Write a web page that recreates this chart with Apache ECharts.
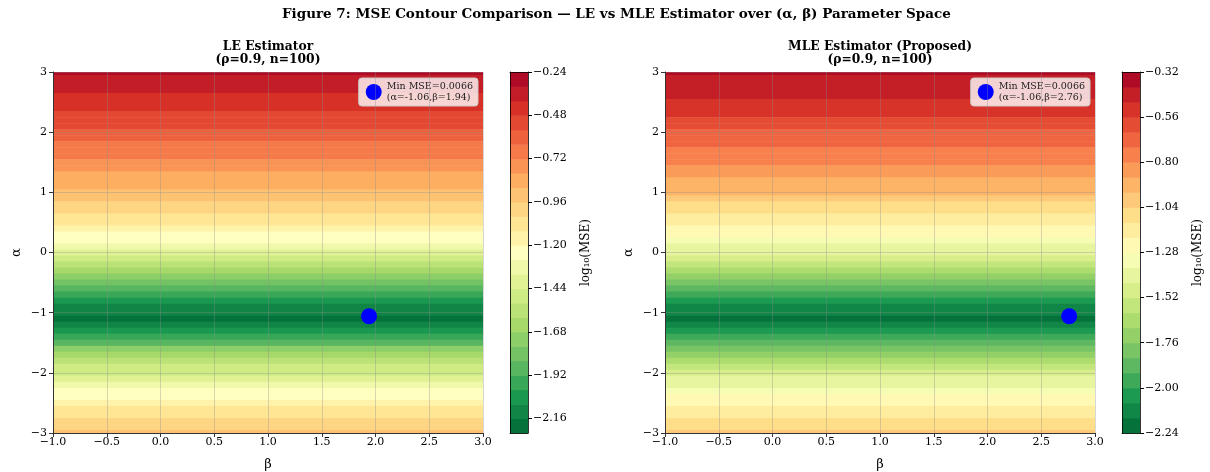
<!DOCTYPE html>
<html>
<head>
<meta charset="utf-8">
<script src="https://cdn.jsdelivr.net/npm/echarts@6/dist/echarts.min.js"></script>
<style>
  html, body { margin: 0; background: #fff; }
  #chart { width: 1210px; height: 472px; }
</style>
</head>
<body>
<div id="chart"></div>
<script>
// alpha rows of the (alpha, beta) grid, top to bottom
const alphaRows = [
  3.0, 2.9, 2.8, 2.7, 2.6, 2.5, 2.4, 2.3, 2.2, 2.1,
  2.0, 1.9, 1.8, 1.7, 1.6, 1.5, 1.4, 1.3, 1.2, 1.1,
  1.0, 0.9, 0.8, 0.7, 0.6, 0.5, 0.4, 0.3, 0.2, 0.1,
  0.0, -0.1, -0.2, -0.3, -0.4, -0.5, -0.6, -0.7, -0.8, -0.9,
  -1.0, -1.1, -1.2, -1.3, -1.4, -1.5, -1.6, -1.7, -1.8, -1.9,
  -2.0, -2.1, -2.2, -2.3, -2.4, -2.5, -2.6, -2.7, -2.8, -2.9,
  -3.0
]

// log10(MSE) per alpha row
const leLogMse = [
  -0.31, -0.34, -0.36, -0.38, -0.40, -0.43, -0.45, -0.48, -0.51, -0.54,
  -0.57, -0.60, -0.64, -0.67, -0.70, -0.73, -0.77, -0.80, -0.83, -0.87,
  -0.90, -0.95, -0.99, -1.03, -1.07, -1.11, -1.16, -1.21, -1.26, -1.32,
  -1.38, -1.45, -1.52, -1.60, -1.68, -1.77, -1.86, -1.95, -2.03, -2.10,
  -2.15, -2.18, -2.10, -2.02, -1.93, -1.84, -1.75, -1.66, -1.58, -1.51,
  -1.44, -1.37, -1.31, -1.26, -1.20, -1.15, -1.10, -1.05, -1.00, -0.96,
  -0.92
]
const mleLogMse = [
  -0.37, -0.42, -0.44, -0.45, -0.47, -0.50, -0.52, -0.55, -0.58, -0.61,
  -0.64, -0.67, -0.70, -0.73, -0.76, -0.79, -0.83, -0.86, -0.89, -0.93,
  -0.95, -1.00, -1.04, -1.08, -1.12, -1.16, -1.20, -1.25, -1.30, -1.36,
  -1.41, -1.48, -1.55, -1.63, -1.70, -1.79, -1.88, -1.96, -2.04, -2.11,
  -2.15, -2.18, -2.14, -2.07, -1.99, -1.90, -1.81, -1.72, -1.64, -1.57,
  -1.50, -1.43, -1.37, -1.32, -1.27, -1.22, -1.17, -1.12, -1.08, -1.04,
  -1.00
]

// minimum points
const leMin = [1.94, -1.06]
const mleMin = [2.76, -1.06]
const minMse = 0.0066

// contour levels and colorbar ticks
const leLevelRange = [-2.24, -0.24]
const mleLevelRange = [-2.24, -0.32]
const levelStep = 0.08
const leCbarTicks = [-2.16, -1.92, -1.68, -1.44, -1.20, -0.96, -0.72, -0.48, -0.24]
const mleCbarTicks = [-2.24, -2.00, -1.76, -1.52, -1.28, -1.04, -0.80, -0.56, -0.32]

const BETA = [-1, 3]
const ALPHA = [-3, 3]
const FONT = '"DejaVu Serif", serif'

// RdYlGn, reversed when sampled
const RDYLGN = ['#a50026', '#d73027', '#f46d43', '#fdae61', '#fee08b', '#ffffbf',
  '#d9ef8b', '#a6d96a', '#66bd63', '#1a9850', '#006837']
function hex2rgb(h) {
  return [1, 3, 5].map(i => parseInt(h.slice(i, i + 2), 16))
}
function cmap(t) {
  const s = (1 - t) * 10
  const i = Math.min(9, Math.floor(s))
  const f = s - i
  const a = hex2rgb(RDYLGN[i]), b = hex2rgb(RDYLGN[i + 1])
  const c = a.map((v, k) => Math.round(v + (b[k] - v) * f))
  return 'rgb(' + c.join(',') + ')'
}

function levels(range) {
  const n = Math.round((range[1] - range[0]) / levelStep)
  const out = []
  for (let i = 0; i <= n; i++) out.push(+(range[0] + i * levelStep).toFixed(2))
  return out
}
function pieces(lv) {
  const n = lv.length - 1
  const out = []
  for (let i = 0; i < n; i++) {
    out.push({ gte: lv[i], lte: lv[i + 1], color: cmap((i + 0.5) / n) })
  }
  return out
}
function bands(lv) {
  const out = []
  for (let i = 0; i < lv.length - 1; i++) out.push([lv[i], (lv[i] + lv[i + 1]) / 2, lv[i + 1]])
  return out
}

const leLv = levels(leLevelRange)
const mleLv = levels(mleLevelRange)
const rowHalf = Math.abs(alphaRows[0] - alphaRows[1]) / 2

function fieldItem(params, api) {
  const a = api.value(0)
  const p0 = api.coord([BETA[0], Math.min(ALPHA[1], a + rowHalf)])
  const p1 = api.coord([BETA[1], Math.max(ALPHA[0], a - rowHalf)])
  return {
    type: 'rect',
    shape: { x: p0[0], y: p0[1], width: p1[0] - p0[0], height: p1[1] - p0[1] + 0.6 },
    style: { fill: api.visual('color') }
  }
}
function cbarItem(params, api) {
  const p0 = api.coord([0, api.value(2)])
  const p1 = api.coord([1, api.value(0)])
  return {
    type: 'rect',
    shape: { x: p0[0], y: p0[1], width: p1[0] - p0[0], height: p1[1] - p0[1] + 0.5 },
    style: { fill: api.visual('color') }
  }
}

const minus = s => String(s).replace('-', '\u2212')
const gridLine = { show: true, lineStyle: { color: 'rgba(140,140,140,0.35)', width: 1 } }

function plotX(grid) {
  return {
    gridIndex: grid, type: 'value', min: BETA[0], max: BETA[1], interval: 0.5, z: 10,
    name: 'β', nameLocation: 'middle', nameGap: 25,
    nameTextStyle: { fontFamily: FONT, fontSize: 13, color: '#000' },
    axisLine: { show: true, onZero: false, lineStyle: { color: '#333', width: 1 } },
    axisTick: { show: true, length: 4, lineStyle: { color: '#333' } },
    axisLabel: { fontFamily: FONT, fontSize: 11, color: '#000', margin: 4, formatter: v => minus(v.toFixed(1)) },
    splitLine: gridLine
  }
}
function plotY(grid) {
  return {
    gridIndex: grid, type: 'value', min: ALPHA[0], max: ALPHA[1], interval: 1, z: 10,
    name: 'α', nameLocation: 'middle', nameGap: 30, nameRotate: 90,
    nameTextStyle: { fontFamily: FONT, fontSize: 13, color: '#000' },
    axisLine: { show: true, onZero: false, lineStyle: { color: '#333', width: 1 } },
    axisTick: { show: true, length: 4, lineStyle: { color: '#333' } },
    axisLabel: { fontFamily: FONT, fontSize: 11, color: '#000', margin: 6, formatter: v => minus(v) },
    splitLine: gridLine
  }
}
function cbarX(grid, pos) {
  return {
    gridIndex: grid, type: 'value', min: 0, max: 1, position: pos, z: 10,
    axisLine: { show: true, onZero: false, lineStyle: { color: '#000', width: 0.8 } },
    axisTick: { show: false }, axisLabel: { show: false }, splitLine: { show: false }
  }
}
function cbarY(grid, range, ticks) {
  return {
    gridIndex: grid, type: 'value', min: range[0], max: range[1], position: 'right', z: 10,
    name: 'log₁₀(MSE)', nameLocation: 'middle', nameGap: 52, nameRotate: 90,
    nameTextStyle: { fontFamily: FONT, fontSize: 12, color: '#000' },
    axisLine: { show: true, onZero: false, lineStyle: { color: '#000', width: 0.8 } },
    axisTick: { show: true, length: 4, customValues: ticks, lineStyle: { color: '#000' } },
    axisLabel: { fontFamily: FONT, fontSize: 11, color: '#000', margin: 5, customValues: ticks,
      formatter: v => minus(v.toFixed(2)) },
    splitLine: { show: false }
  }
}
function cbarYLeft(grid, range) {
  return {
    gridIndex: grid, type: 'value', min: range[0], max: range[1], position: 'left', z: 10,
    axisLine: { show: true, onZero: false, lineStyle: { color: '#000', width: 0.8 } },
    axisTick: { show: false }, axisLabel: { show: false }, splitLine: { show: false }
  }
}

function minName(pt) {
  return 'Min MSE=' + minMse + '\n(α=' + pt[1].toFixed(2) + ',β=' + pt[0].toFixed(2) + ')'
}
function legendBox(name, right) {
  return {
    data: [name], right: right, top: 78, orient: 'vertical',
    icon: 'circle', itemWidth: 16, itemHeight: 16, itemGap: 0,
    backgroundColor: 'rgba(255,255,255,0.8)', borderColor: '#cccccc', borderWidth: 1, borderRadius: 3,
    padding: [3, 5, 3, 7],
    textStyle: { fontFamily: FONT, fontSize: 9.5, color: '#222', lineHeight: 11 }
  }
}

const leRows = alphaRows.map((a, i) => [a, leLogMse[i]])
const mleRows = alphaRows.map((a, i) => [a, mleLogMse[i]])

const gridBase = { outerBoundsMode: 'none', containLabel: false }

const option = {
  backgroundColor: '#fff',
  animation: false,
  title: [
    { text: 'Figure 7: MSE Contour Comparison — LE vs MLE Estimator over (α, β) Parameter Space',
      left: 282, top: 7, padding: 0,
      textStyle: { fontFamily: FONT, fontSize: 13.5, fontWeight: 'bold', color: '#000' } },
    { text: 'LE Estimator\n(ρ=0.9, n=100)', left: 268, top: 40, textAlign: 'center', padding: 0,
      textStyle: { fontFamily: FONT, fontSize: 12.3, fontWeight: 'bold', color: '#000', lineHeight: 13 } },
    { text: 'MLE Estimator (Proposed)\n(ρ=0.9, n=100)', left: 880, top: 40, textAlign: 'center', padding: 0,
      textStyle: { fontFamily: FONT, fontSize: 12.3, fontWeight: 'bold', color: '#000', lineHeight: 13 } }
  ],
  grid: [
    { ...gridBase, left: 53, top: 72, width: 430, height: 361 },
    { ...gridBase, left: 665, top: 72, width: 430, height: 361 },
    { ...gridBase, left: 510, top: 72, width: 18, height: 361 },
    { ...gridBase, left: 1122, top: 72, width: 18, height: 361 }
  ],
  xAxis: [plotX(0), plotX(1), cbarX(2, 'bottom'), cbarX(2, 'top'), cbarX(3, 'bottom'), cbarX(3, 'top')],
  yAxis: [plotY(0), plotY(1),
    cbarY(2, leLevelRange, leCbarTicks), cbarYLeft(2, leLevelRange),
    cbarY(3, mleLevelRange, mleCbarTicks), cbarYLeft(3, mleLevelRange)],
  visualMap: [
    { type: 'piecewise', show: false, seriesIndex: [0, 4], dimension: 1, pieces: pieces(leLv) },
    { type: 'piecewise', show: false, seriesIndex: [2, 5], dimension: 1, pieces: pieces(mleLv) }
  ],
  legend: [legendBox(minName(leMin), 732), legendBox(minName(mleMin), 120)],
  series: [
    { type: 'custom', xAxisIndex: 0, yAxisIndex: 0, renderItem: fieldItem, data: leRows, z: 1, silent: true },
    { type: 'scatter', name: minName(leMin), xAxisIndex: 0, yAxisIndex: 0, data: [leMin],
      symbolSize: 16, itemStyle: { color: '#0000ff', opacity: 1 }, z: 20 },
    { type: 'custom', xAxisIndex: 1, yAxisIndex: 1, renderItem: fieldItem, data: mleRows, z: 1, silent: true },
    { type: 'scatter', name: minName(mleMin), xAxisIndex: 1, yAxisIndex: 1, data: [mleMin],
      symbolSize: 16, itemStyle: { color: '#0000ff', opacity: 1 }, z: 20 },
    { type: 'custom', xAxisIndex: 2, yAxisIndex: 2, renderItem: cbarItem, data: bands(leLv), z: 1, silent: true },
    { type: 'custom', xAxisIndex: 4, yAxisIndex: 4, renderItem: cbarItem, data: bands(mleLv), z: 1, silent: true }
  ]
}

const chart = echarts.init(document.getElementById('chart'))
chart.setOption(option)
</script>
</body>
</html>
